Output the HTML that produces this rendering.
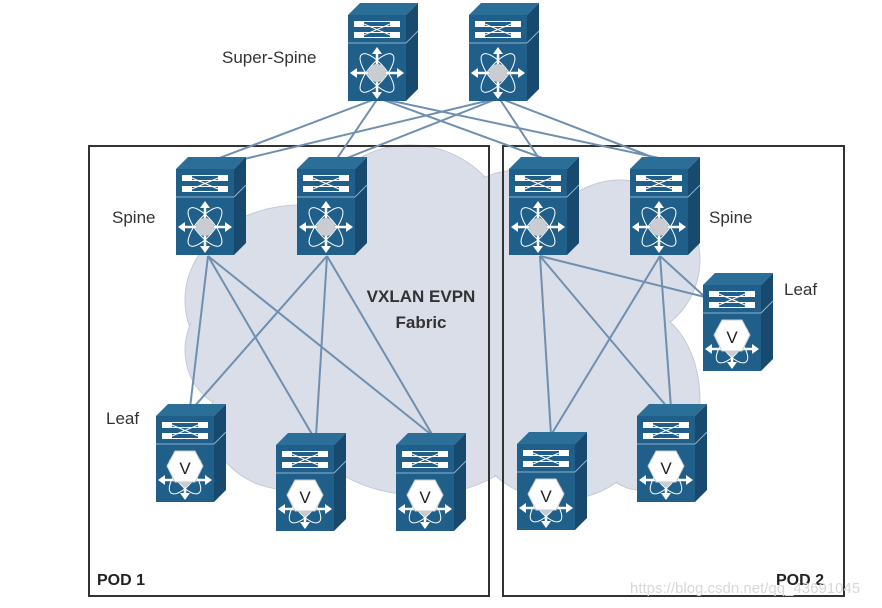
<!DOCTYPE html>
<html><head><style>
html,body{margin:0;padding:0;background:#fff;}
svg{display:block;}
text{font-family:"Liberation Sans",sans-serif;}
</style></head><body>
<svg width="882" height="608" viewBox="0 0 882 608" xmlns="http://www.w3.org/2000/svg">
<defs>
<g id="top">
  <polygon points="0,12 12,0 70,0 58,12" fill="#2b6e98"/>
  <polygon points="58,12 70,0 70,86 58,98" fill="#174a6e"/>
  <rect x="0" y="12" width="58" height="86" fill="#1f5f8a"/>
  <line x1="0" y1="40" x2="58" y2="40" stroke="#8fb2cc" stroke-width="1"/>
  <line x1="58" y1="40" x2="70" y2="28" stroke="#8fb2cc" stroke-width="1"/>
  <rect x="6" y="18" width="46" height="6" fill="#fff"/>
  <rect x="6" y="29" width="46" height="6" fill="#fff"/>
  <rect x="16" y="19" width="26" height="4" fill="#1f5f8a"/>
  <rect x="16" y="30" width="26" height="4" fill="#1f5f8a"/>
  <line x1="16" y1="21" x2="42" y2="32" stroke="#fff" stroke-width="1"/>
  <line x1="16" y1="32" x2="42" y2="21" stroke="#fff" stroke-width="1"/>
</g>
<g id="spine">
  <use href="#top"/>
  <g stroke="#fff" fill="none" stroke-width="1">
    <ellipse cx="29" cy="70" rx="9" ry="24" transform="rotate(40 29 70)"/>
    <ellipse cx="29" cy="70" rx="9" ry="24" transform="rotate(-40 29 70)"/>
  </g>
  <g stroke="#fff" stroke-width="2.5">
    <line x1="29" y1="47" x2="29" y2="93"/>
    <line x1="5" y1="70" x2="53" y2="70"/>
  </g>
  <g fill="#fff">
    <polygon points="29,44 24,51 34,51"/><polygon points="29,96 24,89 34,89"/>
    <polygon points="2,70 9,65 9,75"/><polygon points="56,70 49,65 49,75"/>
  </g>
  <circle cx="29" cy="70" r="9" fill="#c9cdd2"/>
</g>
<g id="leaf">
  <use href="#top"/>
  <g stroke="#fff" fill="none" stroke-width="1">
    <ellipse cx="29" cy="72" rx="9" ry="22" transform="rotate(40 29 72)"/>
    <ellipse cx="29" cy="72" rx="9" ry="22" transform="rotate(-40 29 72)"/>
  </g>
  <g stroke="#fff" stroke-width="2.5">
    <line x1="29" y1="70" x2="29" y2="93"/>
    <line x1="5" y1="76" x2="53" y2="76"/>
  </g>
  <g fill="#fff">
    <polygon points="29,96 24,89 34,89"/>
    <polygon points="2,76 9,71 9,81"/><polygon points="56,76 49,71 49,81"/>
  </g>
  <polygon points="19,47 39,47 47,62 39,78 19,78 11,62" fill="#fff" stroke="#c9cdd2" stroke-width="1"/>
  <polygon points="22,78 36,78 29,84" fill="#c9cdd2"/>
  <text x="29" y="70" font-size="17" text-anchor="middle" fill="#222">V</text>
</g>
</defs>

<!-- cloud -->
<g fill="#d9dee8" stroke="#c3cad6" stroke-width="1">
  <ellipse cx="300" cy="300" rx="115" ry="95"/>
  <ellipse cx="410" cy="240" rx="100" ry="95"/>
  <ellipse cx="520" cy="240" rx="80" ry="70"/>
  <ellipse cx="620" cy="260" rx="80" ry="80"/>
  <ellipse cx="640" cy="400" rx="60" ry="90"/>
  <ellipse cx="420" cy="410" rx="120" ry="85"/>
  <ellipse cx="560" cy="420" rx="90" ry="80"/>
  <ellipse cx="240" cy="350" rx="55" ry="60"/>
  <ellipse cx="290" cy="420" rx="80" ry="70"/>
</g>
<g fill="#d9dee8">
  <ellipse cx="300" cy="300" rx="113" ry="93"/>
  <ellipse cx="410" cy="240" rx="98" ry="93"/>
  <ellipse cx="520" cy="240" rx="78" ry="68"/>
  <ellipse cx="620" cy="260" rx="78" ry="78"/>
  <ellipse cx="640" cy="400" rx="58" ry="88"/>
  <ellipse cx="420" cy="410" rx="118" ry="83"/>
  <ellipse cx="560" cy="420" rx="88" ry="78"/>
  <ellipse cx="240" cy="350" rx="53" ry="58"/>
  <ellipse cx="290" cy="420" rx="78" ry="68"/>
  <rect x="280" y="250" width="340" height="200"/>
</g>

<!-- POD boxes -->
<rect x="89" y="146" width="400" height="450" fill="none" stroke="#333" stroke-width="2"/>
<rect x="503" y="146" width="341" height="450" fill="none" stroke="#333" stroke-width="2"/>

<!-- links -->
<g stroke="#6f8fb0" stroke-width="2" fill="none">
  <line x1="378" y1="98" x2="214" y2="160"/>
  <line x1="378" y1="98" x2="336" y2="160"/>
  <line x1="378" y1="98" x2="548" y2="160"/>
  <line x1="378" y1="98" x2="668" y2="160"/>
  <line x1="499" y1="98" x2="240" y2="160"/>
  <line x1="499" y1="98" x2="342" y2="160"/>
  <line x1="499" y1="98" x2="540" y2="160"/>
  <line x1="499" y1="98" x2="660" y2="160"/>
  <line x1="208" y1="256" x2="190" y2="408"/>
  <line x1="208" y1="256" x2="313" y2="436"/>
  <line x1="208" y1="256" x2="433" y2="436"/>
  <line x1="327" y1="256" x2="193" y2="408"/>
  <line x1="327" y1="256" x2="316" y2="436"/>
  <line x1="327" y1="256" x2="433" y2="436"/>
  <line x1="540" y1="256" x2="551" y2="435"/>
  <line x1="540" y1="256" x2="668" y2="408"/>
  <line x1="540" y1="256" x2="705" y2="297"/>
  <line x1="660" y1="256" x2="551" y2="435"/>
  <line x1="660" y1="256" x2="671" y2="408"/>
  <line x1="660" y1="256" x2="705" y2="297"/>
</g>

<!-- devices -->
<use href="#spine" x="348" y="3"/>
<use href="#spine" x="469" y="3"/>
<use href="#spine" x="176" y="157"/>
<use href="#spine" x="297" y="157"/>
<use href="#spine" x="509" y="157"/>
<use href="#spine" x="630" y="157"/>
<use href="#leaf" x="156" y="404"/>
<use href="#leaf" x="276" y="433"/>
<use href="#leaf" x="396" y="433"/>
<use href="#leaf" x="517" y="432"/>
<use href="#leaf" x="637" y="404"/>
<use href="#leaf" x="703" y="273"/>

<!-- labels -->
<g font-size="17" fill="#333">
  <text x="222" y="63">Super-Spine</text>
  <text x="112" y="223">Spine</text>
  <text x="709" y="223">Spine</text>
  <text x="784" y="295">Leaf</text>
  <text x="106" y="424">Leaf</text>
</g>
<g font-size="17" font-weight="bold" fill="#333" text-anchor="middle">
  <text x="421" y="302">VXLAN EVPN</text>
  <text x="421" y="328">Fabric</text>
</g>
<g font-size="16" font-weight="bold" fill="#222">
  <text x="97" y="585">POD 1</text>
  <text x="776" y="585">POD 2</text>
</g>
<text x="630" y="593" font-size="15" fill="#d8d8d8">https://blog.csdn.net/qq_43691045</text>
</svg>
</body></html>
